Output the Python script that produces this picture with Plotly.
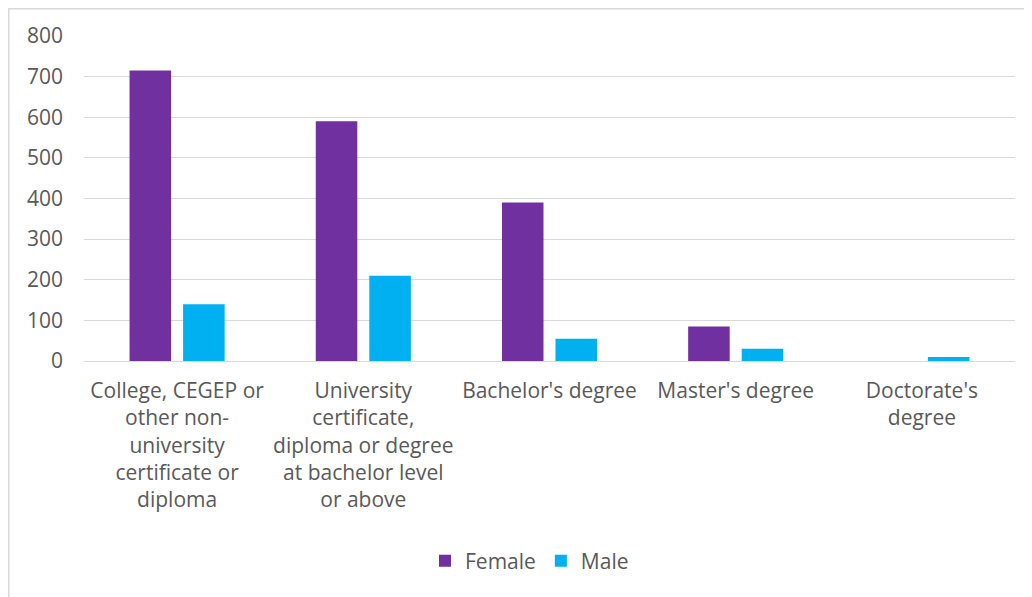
import plotly.graph_objects as go

categories = [
    "College, CEGEP or<br>other non-<br>university<br>certificate or<br>diploma",
    "University<br>certificate,<br>diploma or degree<br>at bachelor level<br>or above",
    "Bachelor's degree",
    "Master's degree",
    "Doctorate's<br>degree",
]
female = [715, 590, 390, 85, 0]
male = [140, 210, 55, 30, 10]
y_ticks = [0, 100, 200, 300, 400, 500, 600, 700, 800]

# page body adds an 8px offset; figure coordinates = screen - 8
OFF = 8
W, H = 1032 - OFF, 597 - OFF
ML, MT = 84 - OFF, 36 - OFF
PR, PB = 1015 - OFF, 361 - OFF
MR, MB = W - PR, H - PB
pw, ph = PR - ML, PB - MT

def px_x(p):
    return (p - ML) / pw

def px_y(p):
    return (PB - p) / ph

FONT = "Open Sans"
TXT = "#595959"
FS = 21

fig = go.Figure()
fig.add_trace(go.Bar(name="Female", x=categories, y=female, marker_color="#7030A0",
                     marker_line_width=0))
fig.add_trace(go.Bar(name="Male", x=categories, y=male, marker_color="#00B0F0",
                     marker_line_width=0))

fig.update_layout(
    width=W, height=H,
    margin=dict(l=ML, r=MR, t=MT, b=MB, autoexpand=False),
    paper_bgcolor="white", plot_bgcolor="white",
    barmode="group", bargap=0.425, bargroupgap=0.224,
    font=dict(family=FONT, size=FS, color=TXT),
    legend=dict(orientation="h", x=0.5 - 20 / pw, xanchor="center", y=px_y(561 - OFF), yanchor="middle",
                font=dict(family=FONT, size=FS, color=TXT), itemwidth=30,
                traceorder="normal"),
    xaxis=dict(showgrid=False, showline=False, ticks="", tickangle=0,
               tickfont=dict(family=FONT, size=FS, color=TXT), ticklabelstandoff=15),
    yaxis=dict(range=[0, 800], tickvals=y_ticks, showgrid=True, gridcolor="#D9D9D9",
               gridwidth=1.3, zeroline=True, zerolinecolor="#D9D9D9", zerolinewidth=1.3,
               showline=False, ticks="", tickfont=dict(family=FONT, size=FS, color=TXT),
               ticklabelstandoff=20),
    shapes=[
        dict(type="line", xref="paper", yref="paper", x0=px_x(0), x1=px_x(W), y0=px_y(0.75), y1=px_y(0.75),
             line=dict(color="#D9D9D9", width=1.5)),
        dict(type="line", xref="paper", yref="paper", x0=px_x(0.75), x1=px_x(0.75), y0=px_y(0), y1=px_y(H),
             line=dict(color="#D9D9D9", width=1.5)),
    ],
)

fig.write_html("out.html")
